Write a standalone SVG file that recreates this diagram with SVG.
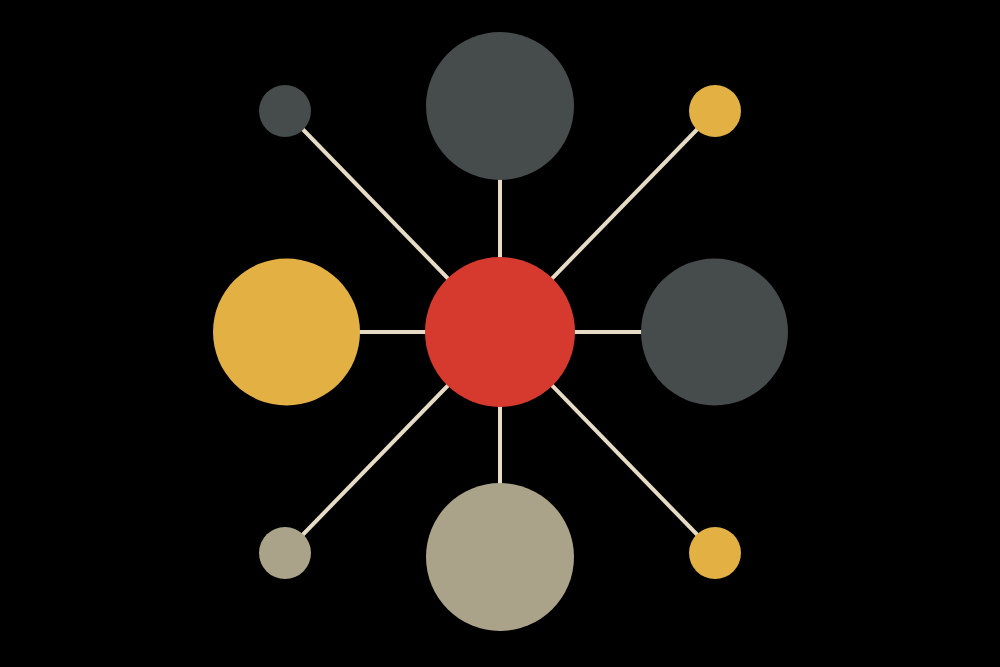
<svg xmlns="http://www.w3.org/2000/svg" width="1000" height="667" viewBox="0 0 1000 667">
<style>
.link{stroke:#e6dcc6;stroke-width:4;stroke-linecap:butt}
.red{fill:#d63a2e}.gray{fill:#464b4b}.yellow{fill:#e2b043}.beige{fill:#aba389}
</style>
<rect width="1000" height="667" fill="#000"/>
<g id="connectors">
<line class="link" x1="500" y1="332" x2="500" y2="106"/>
<line class="link" x1="500" y1="332" x2="500" y2="557"/>
<line class="link" x1="500" y1="332" x2="286" y2="332"/>
<line class="link" x1="500" y1="332" x2="714" y2="332"/>
<line class="link" x1="500" y1="332" x2="285" y2="111"/>
<line class="link" x1="500" y1="332" x2="715" y2="111"/>
<line class="link" x1="500" y1="332" x2="285" y2="553"/>
<line class="link" x1="500" y1="332" x2="715" y2="553"/>
</g>
<g id="node-center"><circle class="red" cx="500" cy="332" r="75"/></g>
<g id="node-top"><circle class="gray" cx="500" cy="106" r="74"/></g>
<g id="node-bottom"><circle class="beige" cx="500" cy="557" r="74"/></g>
<g id="node-left"><circle class="yellow" cx="286.5" cy="332" r="73.5"/></g>
<g id="node-right"><circle class="gray" cx="714.5" cy="332" r="73.5"/></g>
<g id="node-top-left"><circle class="gray" cx="285" cy="111" r="26"/></g>
<g id="node-top-right"><circle class="yellow" cx="715" cy="111" r="26"/></g>
<g id="node-bottom-left"><circle class="beige" cx="285" cy="553" r="26"/></g>
<g id="node-bottom-right"><circle class="yellow" cx="715" cy="553" r="26"/></g>
</svg>
